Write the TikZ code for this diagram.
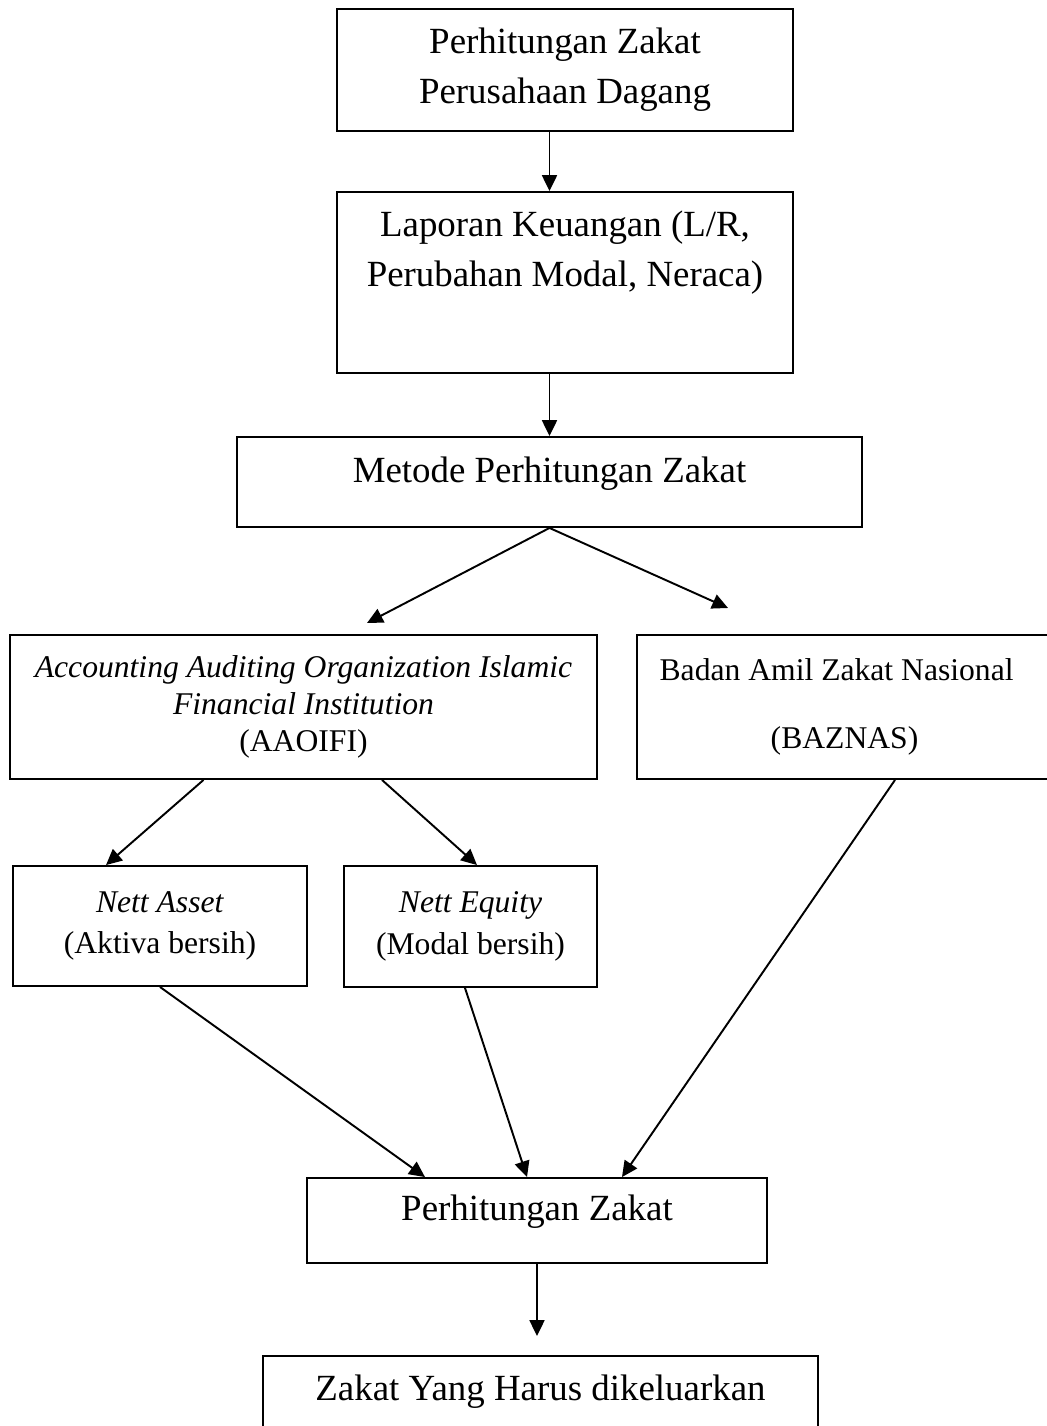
\documentclass[tikz,border=0pt]{standalone}
\usepackage{fontspec}
\setmainfont{Liberation Serif}
\usetikzlibrary{arrows.meta}
\newcommand{\diagbig}{\fontsize{21pt}{28.5pt}\selectfont}
\newcommand{\diagsmall}{\fontsize{18pt}{21pt}\selectfont}
\tikzset{
  flowbox/.style={
    draw=black,
    line width=1.1pt,
    inner sep=0pt,
    align=center,
    font=\diagbig
  },
  flowsmall/.style={
    flowbox,
    font=\diagsmall
  },
  flowsingle/.style={
    text height=9pt,
    text depth=9pt
  },
  flowline/.style={
    draw=black,
    line width=1.1pt,
    -{Triangle[length=9pt,width=8.5pt]}
  }
}
\begin{document}
\begin{tikzpicture}[x=0.02cm,y=-0.02cm]
  \useasboundingbox (0,0) rectangle (1047,1426);
  \node[flowbox, minimum width=9.12cm, minimum height=2.44cm] (start) at (565,70) {Perhitungan Zakat\\Perusahaan Dagang};
  \node[flowbox, minimum width=9.12cm, minimum height=3.62cm] (report) at (565,282.5) {Laporan Keuangan (L/R,\\Perubahan Modal, Neraca)\\[10pt]\mbox{}};
  \node[flowbox, flowsingle, minimum width=12.5cm, minimum height=1.8cm] (method) at (549.5,482) {Metode Perhitungan Zakat};
  \node[flowsmall, minimum width=11.74cm, minimum height=2.88cm] (aaoifi) at (303.5,707) {\textit{Accounting Auditing Organization Islamic}\\\textit{Financial Institution}\\(AAOIFI)};
  \node[flowsmall, minimum width=8.3cm, minimum height=2.88cm] (baznas) at (844.5,707) {Badan Amil Zakat Nasional\hspace*{9pt}\\[17.5pt](BAZNAS)};
  \node[flowsmall, minimum width=5.88cm, minimum height=2.4cm] (asset) at (160,926) {\textit{Nett Asset}\\[2.8pt](Aktiva bersih)};
  \node[flowsmall, minimum width=5.06cm, minimum height=2.42cm] (equity) at (470.5,926.5) {\textit{Nett Equity}\\[2.8pt](Modal bersih)};
  \node[flowbox, flowsingle, minimum width=9.2cm, minimum height=1.7cm] (calc) at (537,1220.5) {Perhitungan Zakat};
  \node[flowbox, flowsingle, minimum width=11.1cm, minimum height=1.76cm] (result) at (540.5,1400) {Zakat Yang Harus dikeluarkan};
  \coordinate (aaoifiTip) at (367,623);
  \coordinate (baznasTip) at (728,608);
  \coordinate (resultTip) at (537,1336);
  \draw[flowline] (start.south -| method.center) -- (report.north -| method.center);
  \draw[flowline] (report.south -| method.center) -- (method.north);
  \draw[flowline] (method.south) -- (aaoifiTip);
  \draw[flowline] (method.south) -- (baznasTip);
  \draw[flowline] ([shift={(-100,0)}]aaoifi.south) -- ([shift={(-54,0)}]asset.north);
  \draw[flowline] ([shift={(78.5,0)}]aaoifi.south) -- ([shift={(6.5,0)}]equity.north);
  \draw[flowline] (asset.south) -- ([shift={(-112,0)}]calc.north);
  \draw[flowline] ([shift={(-5.5,0)}]equity.south) -- ([shift={(-10,0)}]calc.north);
  \draw[flowline] ([shift={(50.5,0)}]baznas.south) -- ([shift={(85,0)}]calc.north);
  \draw[flowline] (calc.south) -- (resultTip);
\end{tikzpicture}
\end{document}
